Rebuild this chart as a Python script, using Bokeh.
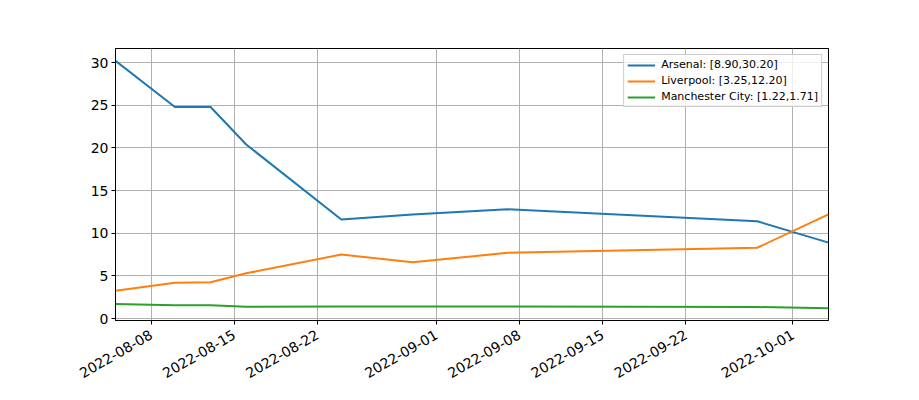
import math
from datetime import datetime
from bokeh.plotting import figure
from bokeh.models import FixedTicker, DatetimeTickFormatter, Range1d, Legend, LegendItem
from bokeh.embed import file_html
from bokeh.resources import INLINE

dates = ["2022-08-05", "2022-08-10", "2022-08-13", "2022-08-16", "2022-08-24",
         "2022-08-30", "2022-09-07", "2022-09-28", "2022-10-04"]
arsenal = [30.20, 24.8, 24.8, 20.4, 11.6, 12.2, 12.8, 11.4, 8.90]
liverpool = [3.25, 4.2, 4.25, 5.3, 7.5, 6.6, 7.7, 8.3, 12.20]
mancity = [1.71, 1.55, 1.55, 1.38, 1.40, 1.41, 1.40, 1.35, 1.22]
series_names = ["Arsenal", "Liverpool", "Manchester City"]
colors = ["#1f77b4", "#ff7f0e", "#2ca02c"]
tick_dates = ["2022-08-08", "2022-08-15", "2022-08-22", "2022-09-01",
              "2022-09-08", "2022-09-15", "2022-09-22", "2022-10-01"]

def to_ms(s):
    return datetime.strptime(s, "%Y-%m-%d").timestamp() * 1000.0

x = [datetime.strptime(d, "%Y-%m-%d") for d in dates]
all_vals = arsenal + liverpool + mancity
lo, hi = min(all_vals), max(all_vals)
pad = (hi - lo) * 0.05

p = figure(width=900, height=400, x_axis_type="datetime", output_backend="svg",
           toolbar_location=None,
           x_range=Range1d(to_ms(dates[0]), to_ms(dates[-1])),
           y_range=Range1d(lo - pad, hi + pad),
           min_border_left=115, min_border_right=72, min_border_top=48, min_border_bottom=80)

items = []
for name, vals, c in zip(series_names, [arsenal, liverpool, mancity], colors):
    r = p.line(x, vals, line_color=c, line_width=2)
    items.append(LegendItem(label=f"{name}: [{min(vals):.2f},{max(vals):.2f}]", renderers=[r]))

legend = Legend(items=items, location="top_right", label_text_font="DejaVu Sans",
                label_text_font_size="11px", label_text_color="black",
                glyph_width=28, glyph_height=12,
                label_height=12, spacing=3, padding=3, margin=6,
                border_line_color="#cccccc", border_line_alpha=1.0,
                background_fill_alpha=0.8, label_standoff=6)
p.add_layout(legend)

p.xaxis.ticker = FixedTicker(ticks=[to_ms(t) for t in tick_dates])
p.xaxis.formatter = DatetimeTickFormatter(days="%Y-%m-%d", months="%Y-%m-%d", hours="%Y-%m-%d")
p.xaxis.major_label_orientation = math.pi / 6
p.yaxis.ticker = FixedTicker(ticks=[0, 5, 10, 15, 20, 25, 30])

for ax in [p.xaxis[0], p.yaxis[0]]:
    ax.major_label_text_font = "DejaVu Sans"
    ax.major_label_text_font_size = "14px"
    ax.major_label_text_color = "black"
    ax.axis_line_color = "black"
    ax.major_tick_line_color = "black"
    ax.major_tick_in = 0
    ax.major_tick_out = 4
    ax.minor_tick_line_color = None
    ax.major_label_standoff = 3
p.xaxis.major_label_standoff = 9

p.grid.grid_line_color = "#b0b0b0"
p.grid.grid_line_width = 1
p.outline_line_color = "black"
p.outline_line_alpha = 1.0
p.background_fill_color = "white"
p.border_fill_color = "white"

open("out.html", "w").write(file_html(p, INLINE))
